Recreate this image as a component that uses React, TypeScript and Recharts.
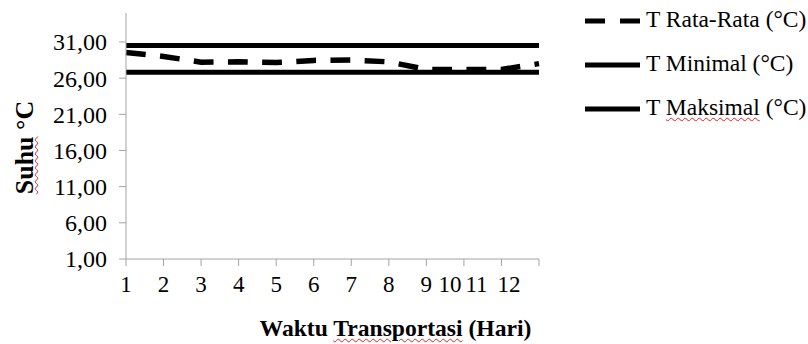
import React from 'react';
import { LineChart, Line, XAxis, YAxis, Legend, Label } from 'recharts';

const days = ['1', '2', '3', '4', '5', '6', '7', '8', '9', '10', '11', '12'];
const tRataRata = [29.55, 29.0, 28.2, 28.25, 28.15, 28.45, 28.5, 28.25, 27.2, 27.2, 27.2, 28.0];
const tMinimal = [26.8, 26.8, 26.8, 26.8, 26.8, 26.8, 26.8, 26.8, 26.8, 26.8, 26.8, 26.8];
const tMaksimal = [30.5, 30.5, 30.5, 30.5, 30.5, 30.5, 30.5, 30.5, 30.5, 30.5, 30.5, 30.5];
const yTicks = [1, 6, 11, 16, 21, 26, 31];

const seriesKeys = ['rata', 'min', 'maks'];
const seriesNames = ['T Rata-Rata (°C)', 'T Minimal (°C)', 'T Maksimal (°C)'];

const data = days.map((d, i) => ({
  day: d,
  rata: tRataRata[i],
  min: tMinimal[i],
  maks: tMaksimal[i],
}));

const FONT = '"Liberation Serif", "Times New Roman", serif';
const AXIS = '#a3a3a3';
const DASH = '19.8 14.4';
// label shifts reproducing the squeezed last labels of the original
const labelShift = [0, 0, 0, 0, 0, 0, 0, 0, 0, -14, -25, -30];

const WAVY: React.CSSProperties = {
  textDecorationLine: 'underline',
  textDecorationStyle: 'wavy',
  textDecorationColor: '#e02020',
  textDecorationThickness: '1px',
  textUnderlineOffset: '2px',
};

const XTick = (props: any) => {
  const { x, y, payload, index } = props;
  return (
    <text
      x={x + (labelShift[index] || 0)}
      y={y}
      dy="0.71em"
      textAnchor="middle"
      fontFamily={FONT}
      fontSize={23}
      fill="#000"
    >
      {payload.value}
    </text>
  );
};

const YTick = (props: any) => {
  const { x, y, payload } = props;
  return (
    <text x={x} y={y} dy="0.35em" textAnchor="end" fontFamily={FONT} fontSize={24} fill="#000">
      {Number(payload.value).toFixed(2).replace('.', ',')}
    </text>
  );
};

const renderLegend = (props: any) => {
  const payload = [...(props.payload || [])].sort(
    (a: any, b: any) => seriesKeys.indexOf(String(a.dataKey)) - seriesKeys.indexOf(String(b.dataKey))
  );
  return (
    <div style={{ fontFamily: FONT, fontSize: 23.5, color: '#000' }}>
      {payload.map((entry: any, i: number) => {
        const dashed = entry.dataKey === 'rata';
        const isMaks = entry.dataKey === 'maks';
        const name = String(entry.value);
        return (
          <div key={i} style={{ height: 44, display: 'flex', alignItems: 'center', whiteSpace: 'nowrap' }}>
            <svg width={55} height={8} style={{ display: 'block' }}>
              <line
                x1={0}
                y1={4}
                x2={55}
                y2={4}
                stroke="#000"
                strokeWidth={5}
                strokeDasharray={dashed ? '20 15' : undefined}
              />
            </svg>
            <span style={{ marginLeft: 6, position: 'relative', top: -2 }}>
              {isMaks ? (
                <>
                  {'T '}
                  <span style={WAVY}>Maksimal</span>
                  {' (°C)'}
                </>
              ) : (
                name
              )}
            </span>
          </div>
        );
      })}
    </div>
  );
};

const YTitle = (props: any) => {
  const vb = props.viewBox || { x: 0, y: 13, width: 126, height: 246 };
  const cx = vb.x + 24.2;
  const cy = vb.y + vb.height / 2 + 11.5;
  const w = 200;
  const h = 32;
  return (
    <foreignObject
      x={cx - w / 2}
      y={cy - h / 2}
      width={w}
      height={h}
      transform={`rotate(-90, ${cx}, ${cy})`}
    >
      <div
        style={{
          width: w,
          height: h,
          lineHeight: `${h}px`,
          textAlign: 'center',
          fontFamily: FONT,
          fontSize: 26,
          fontWeight: 'bold',
          color: '#000',
          whiteSpace: 'nowrap',
        }}
      >
        <span style={WAVY}>Suhu</span> °C
      </div>
    </foreignObject>
  );
};

const XTitle = (props: any) => {
  const vb = props.viewBox || { x: 126, y: 259, width: 413, height: 85 };
  const cx = vb.x + vb.width / 2 + 63;
  const top = vb.y + 54;
  const w = 400;
  const h = 30;
  return (
    <foreignObject x={cx - w / 2} y={top} width={w} height={h}>
      <div
        style={{
          width: w,
          height: h,
          lineHeight: `${h}px`,
          textAlign: 'center',
          fontFamily: FONT,
          fontSize: 23.6,
          fontWeight: 'bold',
          color: '#000',
          whiteSpace: 'nowrap',
        }}
      >
        Waktu <span style={WAVY}>Transportasi</span> (Hari)
      </div>
    </foreignObject>
  );
};

export default function App() {
  return (
    <div style={{ position: 'absolute', left: 0, top: 0, width: 808, height: 344, background: '#fff' }}>
      <LineChart width={808} height={344} data={data} margin={{ top: 13, right: 269, bottom: 0, left: 0 }}>
        <XAxis
          dataKey="day"
          height={85}
          stroke={AXIS}
          tickLine={{ stroke: AXIS }}
          tickSize={7}
          tickMargin={10}
          tick={<XTick />}
          interval={0}
        >
          <Label content={<XTitle />} />
        </XAxis>
        <YAxis
          width={126}
          domain={[1, 35]}
          ticks={yTicks}
          stroke={AXIS}
          tickLine={{ stroke: AXIS }}
          tickSize={7}
          tickMargin={12}
          tick={<YTick />}
          interval={0}
        >
          <Label content={<YTitle />} />
        </YAxis>
        <Legend
          layout="vertical"
          align="center"
          verticalAlign="middle"
          content={renderLegend}
          wrapperStyle={{ left: 585, top: -1, width: 223, right: 'auto', bottom: 'auto' }}
        />
        <Line
          type="linear"
          dataKey="rata"
          name={seriesNames[0]}
          stroke="#000"
          strokeWidth={5.5}
          strokeDasharray={DASH}
          dot={false}
          activeDot={false}
          isAnimationActive={false}
        />
        <Line
          type="linear"
          dataKey="min"
          name={seriesNames[1]}
          stroke="#000"
          strokeWidth={5}
          dot={false}
          activeDot={false}
          isAnimationActive={false}
        />
        <Line
          type="linear"
          dataKey="maks"
          name={seriesNames[2]}
          stroke="#000"
          strokeWidth={5}
          dot={false}
          activeDot={false}
          isAnimationActive={false}
        />
      </LineChart>
    </div>
  );
}
